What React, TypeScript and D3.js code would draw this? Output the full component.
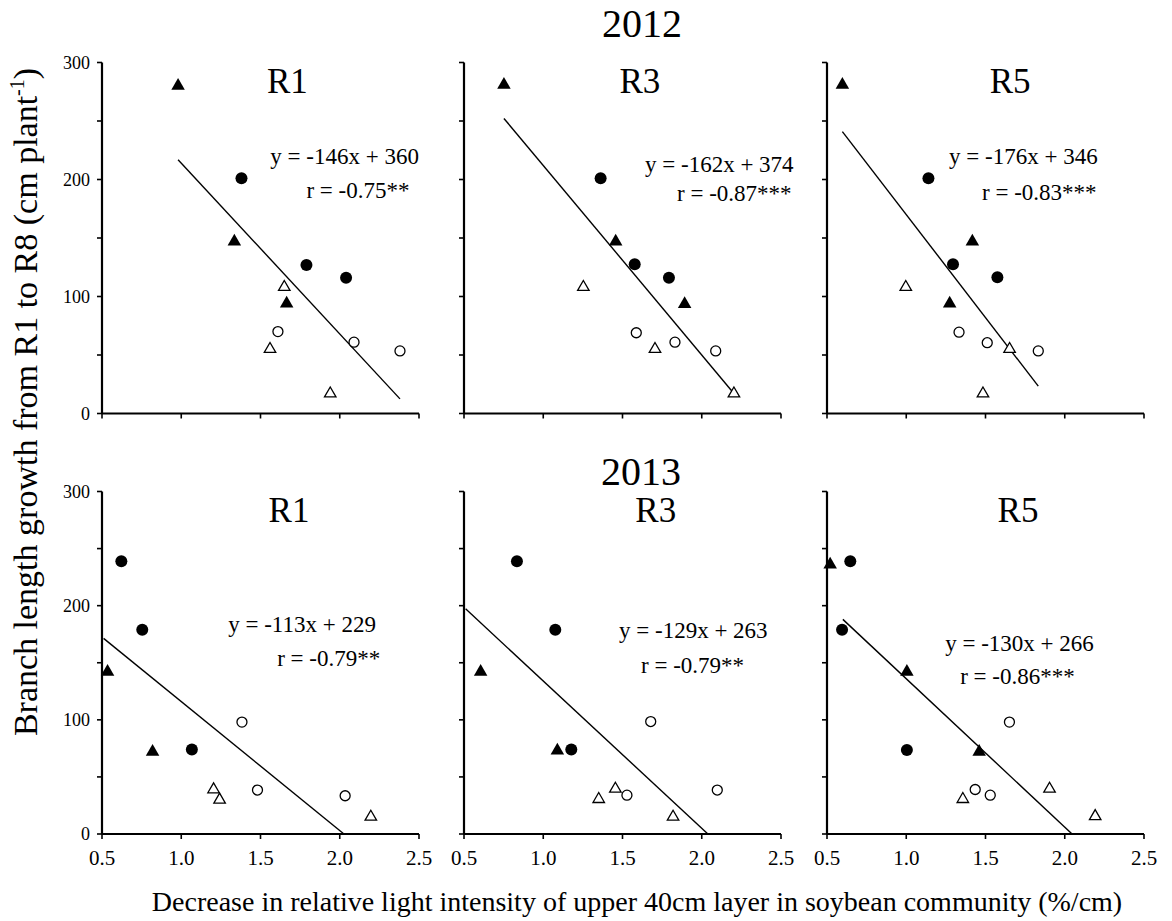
import React from "react";
import * as d3 from "d3";

type Pt = [number, number];

const years = ["2012", "2013"];
const stages = ["R1", "R3", "R5"];
const xTicks = [0.5, 1.0, 1.5, 2.0, 2.5];
const yTicks = [0, 50, 100, 150, 200, 250, 300];
const yTickLabels = [0, 100, 200, 300];

// Each panel: fc = filled circles, ft = filled triangles, oc = open circles, ot = open triangles
const p2012R1 = {
  ft: [[0.98, 280], [1.335, 147], [1.665, 94]] as Pt[],
  fc: [[1.38, 201], [1.79, 127], [2.04, 116]] as Pt[],
  ot: [[1.65, 108], [1.56, 55], [1.94, 17]] as Pt[],
  oc: [[1.61, 70], [2.09, 61], [2.38, 53.5]] as Pt[],
};
const p2012R3 = {
  ft: [[0.752, 281], [1.457, 147], [1.892, 93.5]] as Pt[],
  fc: [[1.362, 201], [1.577, 127.5], [1.793, 116]] as Pt[],
  ot: [[1.253, 108], [1.705, 55], [2.203, 17]] as Pt[],
  oc: [[1.587, 69], [1.831, 61], [2.088, 53.5]] as Pt[],
};
const p2012R5 = {
  ft: [[0.597, 281], [1.417, 147], [1.274, 94]] as Pt[],
  fc: [[1.14, 201], [1.295, 127.5], [1.575, 116.5]] as Pt[],
  ot: [[0.997, 108], [1.652, 55], [1.484, 17]] as Pt[],
  oc: [[1.333, 69.5], [1.511, 60.5], [1.833, 53.5]] as Pt[],
};
const p2013R1 = {
  ft: [[0.535, 142], [0.819, 72]] as Pt[],
  fc: [[0.622, 239], [0.754, 179], [1.067, 74]] as Pt[],
  ot: [[1.204, 39], [1.242, 30], [2.196, 15]] as Pt[],
  oc: [[1.383, 98], [1.481, 38.5], [2.034, 33.5]] as Pt[],
};
const p2013R3 = {
  ft: [[0.605, 142], [1.089, 73]] as Pt[],
  fc: [[0.834, 239], [1.076, 179], [1.177, 74]] as Pt[],
  ot: [[1.35, 30.5], [1.455, 39.5], [1.819, 15]] as Pt[],
  oc: [[1.678, 98.5], [1.528, 34], [2.098, 38.5]] as Pt[],
};
const p2013R5 = {
  ft: [[0.52, 236], [1.004, 142], [1.46, 72]] as Pt[],
  fc: [[0.647, 239], [0.595, 179], [1.004, 73.5]] as Pt[],
  ot: [[1.357, 30.5], [1.904, 39.5], [2.192, 15.5]] as Pt[],
  oc: [[1.651, 98], [1.435, 39], [1.53, 34]] as Pt[],
};
const panelData = [p2012R1, p2012R3, p2012R5, p2013R1, p2013R3, p2013R5];

const slopes = [-146, -162, -176, -113, -129, -130];
const intercepts = [360, 374, 346, 229, 263, 266];
const rValues = ["-0.75**", "-0.87***", "-0.83***", "-0.79**", "-0.79**", "-0.86***"];
const lineStart = [0.98, 0.752, 0.597, 0.51, 0.51, 0.6];

// annotation anchors in data units: equation line start, r line start
const eqAnchor: Pt[] = [[1.562, 213], [1.642, 206.5], [1.27, 213.4], [1.296, 177], [1.478, 172], [1.246, 160]];
const rAnchor: Pt[] = [[1.79, 184], [1.844, 181.4], [1.478, 182.5], [1.605, 147], [1.617, 141], [1.34, 131]];
const stageLabelX = [1.67, 1.61, 1.655, 1.68, 1.71, 1.705];

const W = 1172;
const H = 921;
const colX = [102, 464, 827];
const plotW = 317;
const rowY = [
  { top: 62.5, bottom: 413.5 },
  { top: 491.5, bottom: 834 },
];
const FONT = "'Liberation Serif', 'Times New Roman', serif";

function triPath(cx: number, cy: number, s: number) {
  const h = (s * Math.sqrt(3)) / 2;
  return `M${cx},${cy - (2 * h) / 3}L${cx + s / 2},${cy + h / 3}L${cx - s / 2},${cy + h / 3}Z`;
}

function Panel({ idx }: { idx: number }) {
  const row = Math.floor(idx / 3);
  const col = idx % 3;
  const x0 = colX[col];
  const { top, bottom } = rowY[row];
  const x = d3.scaleLinear().domain([0.5, 2.5]).range([x0, x0 + plotW]);
  const y = d3.scaleLinear().domain([0, 300]).range([bottom, top]);
  const data = panelData[idx];
  const m = slopes[idx];
  const b = intercepts[idx];
  const allX = [...data.fc, ...data.ft, ...data.oc, ...data.ot].map((d) => d[0]);
  const xEnd = Math.min(d3.max(allX) as number, -b / m);
  const line = d3
    .line<number>()
    .x((v) => x(v))
    .y((v) => y(m * v + b));
  const showYLabels = col === 0;
  const showXLabels = row === 1;
  return (
    <g>
      {/* axes */}
      <line x1={x0} x2={x0 + plotW} y1={bottom} y2={bottom} stroke="#000" strokeWidth={2.2} />
      <line x1={x0} x2={x0} y1={top} y2={bottom} stroke="#000" strokeWidth={2.2} />
      {xTicks.map((t) => (
        <line key={"xt" + t} x1={x(t)} x2={x(t)} y1={bottom} y2={bottom + 5} stroke="#000" strokeWidth={1.6} />
      ))}
      {yTicks.map((t) => (
        <line key={"yt" + t} x1={x0 - 5} x2={x0} y1={y(t)} y2={y(t)} stroke="#000" strokeWidth={1.6} />
      ))}
      {showYLabels &&
        yTickLabels.map((t) => (
          <text key={"yl" + t} x={x0 - 12} y={y(t) + 6} textAnchor="end" fontSize={18} fontFamily={FONT}>
            {t}
          </text>
        ))}
      {showXLabels &&
        xTicks.map((t) => (
          <text key={"xl" + t} x={x(t)} y={bottom + 31} textAnchor="middle" fontSize={21} fontFamily={FONT}>
            {t.toFixed(1)}
          </text>
        ))}
      {/* regression line */}
      <path d={line([lineStart[idx], xEnd]) || ""} stroke="#000" strokeWidth={1.4} fill="none" />
      {/* markers */}
      {data.fc.map((d, i) => (
        <circle key={"fc" + i} cx={x(d[0])} cy={y(d[1])} r={6} fill="#000" />
      ))}
      {data.oc.map((d, i) => (
        <circle key={"oc" + i} cx={x(d[0])} cy={y(d[1])} r={5} fill="#fff" stroke="#000" strokeWidth={1.3} />
      ))}
      {data.ft.map((d, i) => (
        <path key={"ft" + i} d={triPath(x(d[0]), y(d[1]), 13.5)} fill="#000" />
      ))}
      {data.ot.map((d, i) => (
        <path key={"ot" + i} d={triPath(x(d[0]), y(d[1]), 11.5)} fill="#fff" stroke="#000" strokeWidth={1.3} />
      ))}
      {/* labels */}
      <text
        x={x(stageLabelX[idx])}
        y={top + 30}
        textAnchor="middle"
        fontSize={35}
        fontFamily={FONT}
      >
        {stages[col]}
      </text>
      <text x={x(eqAnchor[idx][0])} y={y(eqAnchor[idx][1])} fontSize={23} fontFamily={FONT}>
        {`y = ${m}x + ${b}`}
      </text>
      <text x={x(rAnchor[idx][0])} y={y(rAnchor[idx][1])} fontSize={23} fontFamily={FONT}>
        {`r = ${rValues[idx]}`}
      </text>
    </g>
  );
}

export default function App() {
  return (
    <div style={{ position: "absolute", left: 0, top: 0, width: W, height: H, background: "#fff" }}>
      <svg width={W} height={H} style={{ display: "block" }}>
        <rect width={W} height={H} fill="#fff" />
        <text x={642} y={37} textAnchor="middle" fontSize={40} fontFamily={FONT}>
          {years[0]}
        </text>
        <text x={641} y={485} textAnchor="middle" fontSize={40} fontFamily={FONT}>
          {years[1]}
        </text>
        {[0, 1, 2, 3, 4, 5].map((i) => (
          <Panel key={i} idx={i} />
        ))}
        <text
          transform="translate(37,402) rotate(-90)"
          textAnchor="middle"
          fontSize={34}
          fontFamily={FONT}
        >
          Branch length growth from R1 to R8 (cm plant
          <tspan fontSize={20} dy={-13}>-1</tspan>
          <tspan dy={13}>)</tspan>
        </text>
        <text x={637} y={911} textAnchor="middle" fontSize={28} fontFamily={FONT}>
          Decrease in relative light intensity of upper 40cm layer in soybean community (%/cm)
        </text>
      </svg>
    </div>
  );
}
